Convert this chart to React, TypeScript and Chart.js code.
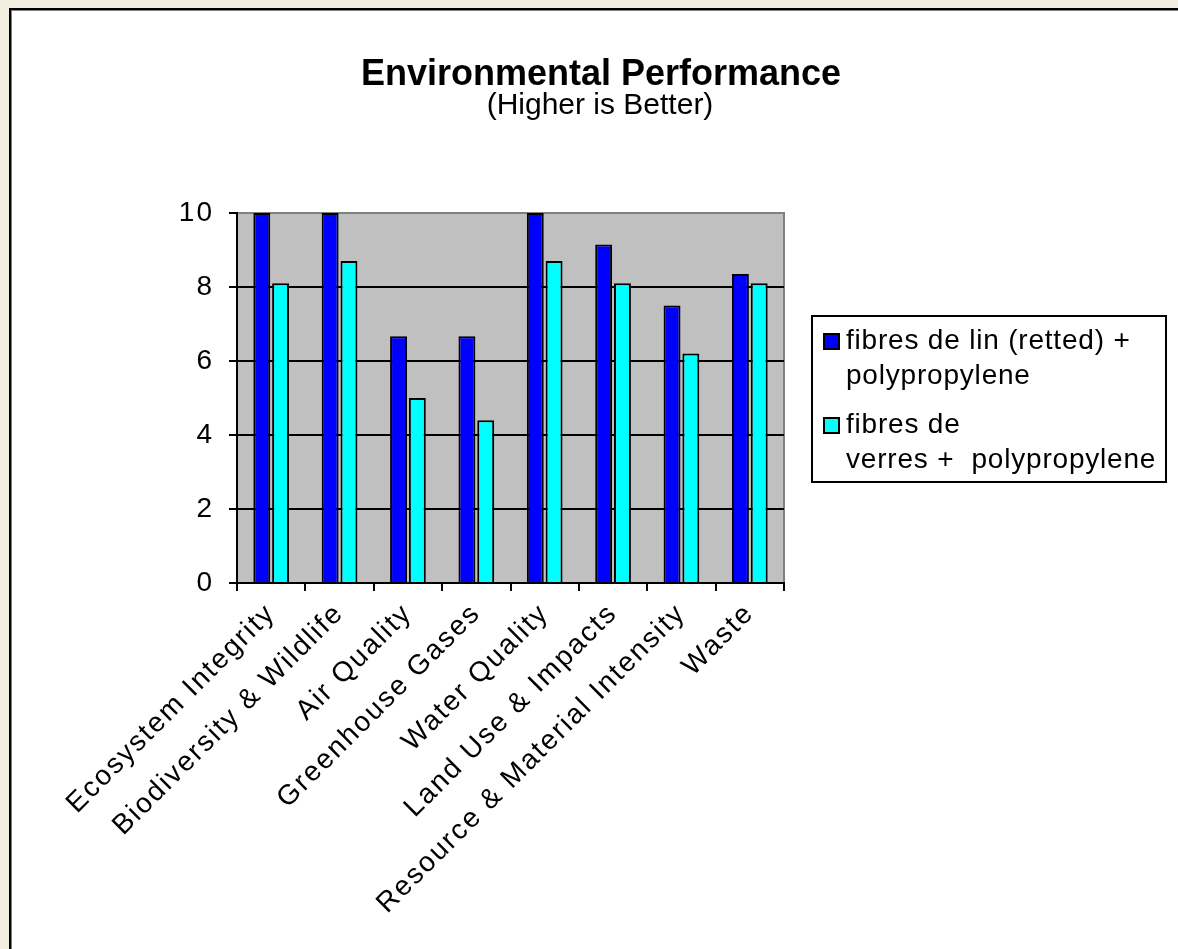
import React, { useEffect, useRef } from "react";
import { Chart, registerables } from "chart.js";

Chart.register(...registerables);

const categories = [
  "Ecosystem Integrity",
  "Biodiversity & Wildlife",
  "Air Quality",
  "Greenhouse Gases",
  "Water Quality",
  "Land Use & Impacts",
  "Resource & Material Intensity",
  "Waste",
];
const flaxValues = [10, 10, 6.67, 6.67, 10, 9.15, 7.5, 8.35];
const glassValues = [8.1, 8.7, 5, 4.4, 8.7, 8.1, 6.2, 8.1];
const seriesNames = ["fibres de lin (retted) + polypropylene", "fibres de verres +  polypropylene"];
const legendLines = [
  ["fibres de lin (retted) +", "polypropylene"],
  ["fibres de", "verres +  polypropylene"],
];
const seriesColors = ["#0000FF", "#00FFFF"];
const titleText = "Environmental Performance";
const subtitleText = "(Higher is Better)";
const yMin = 0;
const yMax = 10;
const yStep = 2;

const W = 1178;
const H = 949;
const PLOT = { left: 237, right: 784, top: 213, bottom: 583 };
const FONT = "'Liberation Sans', Arial, sans-serif";
const SPACING = "2px";

const framePlugin = {
  id: "frame",
  beforeDraw(chart: any) {
    const ctx = chart.ctx;
    ctx.save();
    ctx.fillStyle = "#F1EEE1";
    ctx.fillRect(0, 0, W, H);
    ctx.fillStyle = "#000";
    ctx.fillRect(9, 8, W - 9, 2);
    ctx.fillRect(9, 8, 2, H - 8);
    ctx.fillStyle = "#808080";
    ctx.fillRect(11, 10, W - 11, 1);
    ctx.fillRect(11, 10, 1, H - 10);
    ctx.fillStyle = "#FFFFFF";
    ctx.fillRect(12, 11, W - 12, H - 11);
    const a = chart.chartArea;
    ctx.fillStyle = "#C0C0C0";
    ctx.fillRect(a.left, a.top, a.right - a.left, a.bottom - a.top);
    ctx.strokeStyle = "#808080";
    ctx.lineWidth = 2;
    ctx.beginPath();
    ctx.moveTo(a.left, a.top);
    ctx.lineTo(a.right, a.top);
    ctx.lineTo(a.right, a.bottom);
    ctx.stroke();
    ctx.restore();
    ctx.letterSpacing = SPACING;
  },
};

const textPlugin = {
  id: "texts",
  afterDraw(chart: any) {
    const ctx = chart.ctx;
    ctx.save();
    ctx.fillStyle = "#000";
    ctx.textAlign = "center";
    ctx.textBaseline = "middle";
    ctx.letterSpacing = "0px";
    ctx.font = `bold 36px ${FONT}`;
    ctx.fillText(titleText, 601, 75);
    ctx.font = `30px ${FONT}`;
    ctx.fillText(subtitleText, 600, 106);

    // legend box
    const bx = 812, by = 316, bw = 354, bh = 166;
    ctx.fillStyle = "#FFFFFF";
    ctx.fillRect(bx, by, bw, bh);
    ctx.strokeStyle = "#000";
    ctx.lineWidth = 2;
    ctx.strokeRect(bx, by, bw, bh);
    ctx.letterSpacing = "0.8px";
    ctx.font = `28px ${FONT}`;
    ctx.textAlign = "left";
    const itemCenters = [341, 425];
    legendLines.forEach((lines, i) => {
      const y0 = itemCenters[i];
      ctx.fillStyle = seriesColors[i];
      ctx.fillRect(824, y0 - 7, 15, 15);
      ctx.strokeStyle = "#000";
      ctx.lineWidth = 2;
      ctx.strokeRect(824, y0 - 7, 15, 15);
      ctx.fillStyle = "#000";
      lines.forEach((ln, j) => {
        ctx.fillText(ln, 846, y0 + j * 35);
      });
    });
    ctx.restore();
  },
};

export default function App() {
  const ref = useRef<HTMLCanvasElement | null>(null);
  useEffect(() => {
    if (!ref.current) return;
    const chart = new Chart(ref.current, {
      type: "bar",
      data: {
        labels: categories,
        datasets: [
          {
            label: seriesNames[0],
            data: flaxValues,
            backgroundColor: seriesColors[0],
            borderColor: "#000",
            borderWidth: 2,
            categoryPercentage: 0.55,
            barPercentage: 0.9,
          },
          {
            label: seriesNames[1],
            data: glassValues,
            backgroundColor: seriesColors[1],
            borderColor: "#000",
            borderWidth: 2,
            categoryPercentage: 0.55,
            barPercentage: 0.9,
          },
        ],
      },
      options: {
        animation: false,
        responsive: false,
        maintainAspectRatio: false,
        devicePixelRatio: 1,
        layout: {
          padding: { left: 0, top: PLOT.top, right: W - PLOT.right, bottom: 0 },
        },
        plugins: {
          legend: { display: false },
          title: { display: false },
          tooltip: { enabled: false },
        },
        scales: {
          x: {
            afterFit: (s: any) => {
              s.height = H - PLOT.bottom;
            },
            grid: {
              offset: true,
              drawOnChartArea: false,
              drawTicks: true,
              tickLength: 8,
              color: "#000",
              lineWidth: 2,
            },
            border: { display: true, color: "#000", width: 2 },
            ticks: {
              minRotation: 45,
              maxRotation: 45,
              autoSkip: false,
              padding: 6,
              color: "#000",
              font: { family: FONT, size: 28 },
            },
          },
          y: {
            min: yMin,
            max: yMax,
            afterFit: (s: any) => {
              s.width = PLOT.left;
            },
            grid: {
              color: (c: any) => (c.tick && c.tick.value === yMax ? "#808080" : "#000"),
              tickColor: "#000",
              lineWidth: 2,
              drawTicks: true,
              tickLength: 8,
            },
            border: { display: true, color: "#000", width: 2 },
            ticks: {
              stepSize: yStep,
              padding: 15,
              color: "#000",
              font: { family: FONT, size: 28 },
            },
          },
        },
      },
      plugins: [framePlugin, textPlugin],
    });
    return () => chart.destroy();
  }, []);
  return (
    <div style={{ position: "fixed", left: 0, top: 0, width: W, height: H }}>
      <canvas ref={ref} width={W} height={H} style={{ width: W, height: H, display: "block" }} />
    </div>
  );
}
